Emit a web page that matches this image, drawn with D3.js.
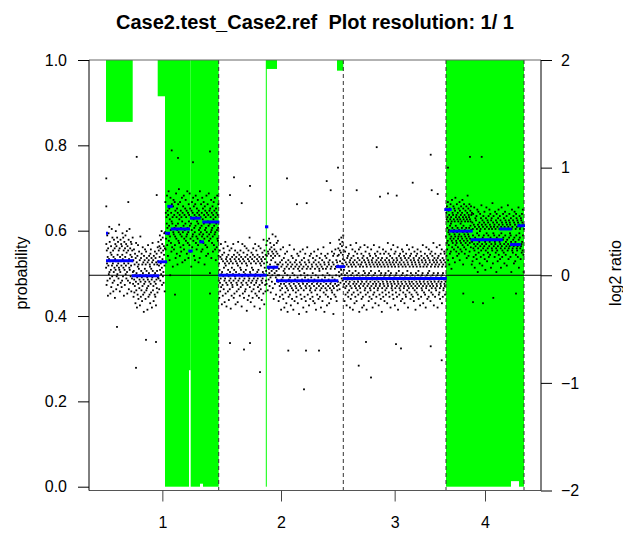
<!DOCTYPE html>
<html>
<head>
<meta charset="utf-8">
<script src="https://cdn.jsdelivr.net/npm/d3@7"></script>
<style>
  body { margin: 0; background: #fff; }
  text { font-family: "Liberation Sans", Arial, sans-serif; }
</style>
</head>
<body>
<div id="chart"></div>
<script>
// chromosome layout (Mb) and labels
var chromLengths = [112.7, 124.6, 102.7, 78];
var chromLabels = ["1", "2", "3", "4"];

// green probability bars: [start, end, bottom probability] (hang from 1.0)
var greenBars = [
  [0, 26.7, 0.855], [51.7, 59, 0.915], [59, 83, 0], [83, 84.7, 0.273],
  [84.7, 94, 0], [94, 97, 0.007], [97, 112.7, 0],
  [159.8, 160.8, 0], [160, 171, 0.979], [231, 237.3, 0.975],
  [340, 405, 0], [405, 413, 0.013], [413, 418, 0]
];

// blue segment means: [start, end, log2 ratio]
var segments = [
  [0, 2, 0.39], [0, 27.3, 0.135], [25.7, 53.3, -0.005], [51.5, 61, 0.125],
  [59, 64, 0.39], [61.3, 66.7, 0.64], [64.7, 84, 0.43], [84, 94.7, 0.53],
  [82.3, 86.7, 0.225], [93.3, 98, 0.31], [96.3, 113.3, 0.495],
  [112.3, 160.7, 0.0], [159, 162.3, 0.45], [160.7, 172.3, 0.074],
  [170, 232.3, -0.05], [230, 239, 0.08], [236.7, 340.7, -0.03],
  [338.3, 345.7, 0.61], [343.3, 366.7, 0.41], [364.7, 396.7, 0.33],
  [393.3, 405.7, 0.43], [404, 414.7, 0.285], [411.3, 419, 0.46]
];

// bulk probes: one character per probe = offset from the stretch level,
// in steps of 0.02 log2 ('U' = 0, 'V' = +1, 'T' = -1 ...)
var ptsA = "SdKaUhMXFbTiPWlQeNVGZRcJYkTOgLUaHXQfMSbEWdRjVIcOTgPYKeUNaSmRbHXQfLVdTJcMYiWOgSaFUeRKbXhPTdNZjQGcVMaUfIWSkRLbYOeTHdXNaVgQ";
var ptsB = "RcLXhTNaQfVIdSkOWbGUeMZjRKaYgPTcHVnSLdXOfUJaQiWMbTEeRNcYhSKaVgOXdPUFbTjQLcWeSMaZIfRhNYdTGbUkXOcQJeVaSMgWLdRHbTfPXaNiU";
var ptsC = "VeNaTIcXhRMbUfPZjSKdWgOaQLcYiTHb";
var ptsD = "ThLcQFaXkNVdIbSmPWeGZR9jUOcKYgMXaDfTiSLbVhNRdHWlQaJeUEcXgPTnOZbIhSMdVKaRjYFcTfNWkLQbUGeXiPaRdJSmVOcTHgYbNlWeKQaXDdUhMRcSjPZfIVbTGgWkOaRLeYcQiNXFdUbSHmVPaTgKWcRjLZeSOhXbQEfUdNaVIkTcMRgYJbWlPSdXAeQaTiHUcOVfRKbZhNWdSjLTaGeXcMUkQbPVgI";
var ptsE = "SaKXgRNdTjPVcHWeQLbUhOYfSIaTkMZcRGdVbQiNXeUJaSgOWcTFbRhLYdQPaVjSKeXMcUgTHbWdRNaQfIZkSOcVeTLbYgPXdRGaUjQMcSfWKbTiNVdOXaRhEZeQJcUgSLbTmPWdVIaRfNYcSKeXhOTbQGdUjMVaRgSLcWeTPbXiKNdQFaUhOZcSJbRfTWdMlVaHgYcQNeS";
var ptsF = "TfNaXhRKcVbPUiSMdWgQJaYeTOcRkLZbUGfVdSNaXjQIcTgPWbRh";
var ptsG = "UcLaXgSNdQjTHbVeROcWkMZfTIaYhPSdUKbRiXGcQeNVaTlOWdSJbUgRMcYfQHaTjXLdVbSPeRNcUhWKaQgTFbZdSiOXcRMeVaUjTIbQfYNdWhSLcRGaTkXObVeUJdSgQMaRhWPcTbNYfLUdSiVKaQeXHcRgTObUjWMdSaZfNQcTIhRbVeLXaSkPUdGcWgROaTfQJbYhNSdVcKXeRmTaMUbQiPWdSgFcRhOVaTjNbXeLSdQgU";
var ptsH = "VdMaShQKcXfNUbTiRPeWgOaYjLcT";
var ptsI = "SdKaWhQNcTjRIbXeUOfVMaSgPYcTHdRkLbWeQNaUiXGcSfOVbTJdRhMYaQlSKcWgPUeTNbXiRFdVaQjOSbUgLcTHeWMaRfYIdSkPXcQhNVbTGaUeRjOWdSKcXgMbQfTPaYiRLdVcUHeSNbWkQOaTgXJcRfSMdUbVhPaQeTIcYjNRbSgWLdXaUFeQOcTiMSbVgRKaWdPXhNUcQeTJbSlRaYgOdVMcWfTHbXiSQaRePNcUkLdTbVgSIaQhWOcXeRMdUjTGbSaYfNQcVgPReKbTdWiSLaXhOUcQfRJbVeTNaMgSdWkPYcRHbUeQiTOaSfVLdXgRNcTbWjMQaSeKdUhPVcRGbXfTOaQgSiNWdYLcReUbTIaVhSMfQdWPcXkRJaTeOUbSgNdVHcQjRaWfLTbXeSMiPYdUcRgKVaTOhQbSfWNdRlXIcUeTaMgQbVPdSjRcWHeXaTfNUbOkQLdSgRVcTiJaWeMXbPQdUhSgRNcTaV";
var ptsJ1 = "TeKbQhNXcRjIaVfPWdGUgLYbSiMZcTEaRkOXeQJdVhSbNWgUaHfTlPYcRMdQiVKbXeOSaTgLWcUjIfRbNZdQhTaMXeSkPVcGgYbRiOUdLWaTfQNcXhSJbVeRmPaUgKdTcXiMQbSfYaOhWdRGe";
var ptsJ2 = "UdLaXhRNcTkQIbWfSOeVgMaYjTGcRiPXbUdKZhSaNfQlVcTJeWbRgOXdSiMaUHcQfTkYbLVeRPdXgNaSjUcOhWbIeTfRaQmVKdYgSbXcNUiTaPeRGhWdQbLSfVjOcXaUgMTeRIbYkSdNQcVhWaPfTKbRiXeOUdSgJcVaQlTbMReWhSdYcNXfUGaTjQbRPeVgSKdWiTcLUaOhXfRbQeSNdTkVIcYgWaRbMfSeTPhUdQjXcOGa";

// [start, end, level, probes]
var pointGroups = [
  [0, 27, 0.11, ptsA], [27, 52, -0.02, ptsB], [52, 59, 0.11, ptsC],
  [59, 112.7, 0.42, ptsD], [112.7, 160, -0.01, ptsE], [160, 172, 0.06, ptsF],
  [172, 232, -0.06, ptsG], [232, 238, 0.07, ptsH], [238, 340, -0.04, ptsI],
  [340, 366, 0.38, ptsJ1], [366, 418, 0.31, ptsJ2]
];

// isolated probes far from the bulk: [Mb, log2 ratio]
var outliers = [
  [30.7, 1.10], [0.3, 0.90], [22.3, 0.68], [50.7, 0.745], [0.3, 0.64],
  [30, -0.86], [11, -0.48], [40, -0.60], [50, -0.62],
  [65.7, 1.16], [104, 1.15], [72, 1.09], [87, 1.05], [69, -0.18], [104, -0.17],
  [128, 0.91], [144, 0.83], [135.7, 0.67], [124, 0.745],
  [124, -0.63], [138, -0.69], [154, -0.90], [144, -0.63],
  [181, 0.90], [220.7, 0.875], [224.7, 0.79], [191, 0.66], [200.7, 0.67], [232, 1.0],
  [198, -1.06], [182.3, -0.70], [200, -0.70], [213, -0.70],
  [270.7, 1.19], [324.7, 1.12], [250.7, 0.79], [306.7, 0.86], [325.7, 0.79],
  [274, 0.73], [282, 0.76], [290.7, 0.74], [331.7, 0.755],
  [252.7, -0.84], [265, -0.95], [335.7, -0.79], [295, -0.68], [290, -0.64],
  [324.7, -0.66], [260, -0.62],
  [375.7, 1.10], [364, 1.10], [342, 1.0], [377, -0.26], [367, -0.25],
  [387.3, -0.21], [410, -0.17], [357.3, -0.17]
];

var probTicks = [0, 0.2, 0.4, 0.6, 0.8, 1.0];
var ratioTicks = [-2, -1, 0, 1, 2];

var ALPH = "0123456789ABCDEFGHIJKLMNOPQRSTUVWXYZabcdefghijklmnopqrstuvwxyz";
var STEP = 0.02;

var width = 623, height = 533;
var plotL = 89, plotR = 541, plotT = 60, plotB = 490.5;

var svg = d3.select("#chart").append("svg")
  .attr("width", width).attr("height", height);

var chromEnds = Array.from(d3.cumsum(chromLengths));
var chromMids = chromLengths.map((l, i) => chromEnds[i] - l / 2);
var total = chromEnds[chromEnds.length - 1];

var x = d3.scaleLinear().domain([0, total]).range([106, 524]);
var yP = d3.scaleLinear().domain([0, 1]).range([486.7, plotT]);
var yL = d3.scaleLinear().domain([-2, 2]).range([plotB, plotT]);

// green bars
svg.append("g").selectAll("rect")
  .data(greenBars)
  .enter().append("rect")
  .attr("x", d => x(d[0]))
  .attr("width", d => x(d[1]) - x(d[0]))
  .attr("y", yP(1))
  .attr("height", d => yP(d[2]) - yP(1))
  .attr("fill", "#00ff00");

// probe points
var points = outliers.slice();
pointGroups.forEach(function(g) {
  var n = g[3].length, w = (g[1] - g[0]) / n;
  for (var i = 0; i < n; i++) {
    points.push([g[0] + (i + 0.5) * w, g[2] + (ALPH.indexOf(g[3][i]) - 30) * STEP]);
  }
});

svg.append("g").selectAll("rect")
  .data(points)
  .enter().append("rect")
  .attr("x", d => x(d[0]) - 0.9)
  .attr("y", d => yL(d[1]) - 0.9)
  .attr("width", 1.8)
  .attr("height", 1.8)
  .attr("fill", "#000");

// zero line
svg.append("line")
  .attr("x1", plotL).attr("x2", plotR)
  .attr("y1", yL(0)).attr("y2", yL(0))
  .attr("stroke", "#000").attr("stroke-width", 1);

// chromosome boundaries
svg.append("g").selectAll("line")
  .data(chromEnds)
  .enter().append("line")
  .attr("x1", d => x(d)).attr("x2", d => x(d))
  .attr("y1", plotT).attr("y2", plotB)
  .attr("stroke", "#333")
  .attr("stroke-dasharray", "4,3");

// segment means
svg.append("g").selectAll("line")
  .data(segments)
  .enter().append("line")
  .attr("x1", d => x(d[0])).attr("x2", d => x(d[1]))
  .attr("y1", d => yL(d[2])).attr("y2", d => yL(d[2]))
  .attr("stroke", "#0000ff")
  .attr("stroke-width", 3);

// frame
svg.append("line").attr("x1", plotL).attr("x2", plotR).attr("y1", plotT).attr("y2", plotT)
  .attr("stroke", "#666");
svg.append("line").attr("x1", plotL).attr("x2", plotR).attr("y1", plotB).attr("y2", plotB)
  .attr("stroke", "#555");

// axes
var leftAxis = svg.append("g")
  .attr("transform", "translate(" + plotL + ",0)")
  .call(d3.axisLeft(yP).tickValues(probTicks).tickFormat(d3.format(".1f"))
    .tickSize(11).tickPadding(11));
var rightAxis = svg.append("g")
  .attr("transform", "translate(" + plotR + ",0)")
  .call(d3.axisRight(yL).tickValues(ratioTicks).tickFormat(d3.format("d"))
    .tickSize(11).tickPadding(9));
var bottomAxis = svg.append("g")
  .attr("transform", "translate(0," + plotB + ")")
  .call(d3.axisBottom(x).tickValues(chromMids).tickFormat((d, i) => chromLabels[i])
    .tickSize(11).tickPadding(15));

[leftAxis, rightAxis, bottomAxis].forEach(function(a) {
  a.select(".domain").remove();
  a.selectAll("text").style("font-size", "16px").attr("fill", "#000");
});
bottomAxis.selectAll("line").attr("stroke", "#444");

svg.append("line").attr("x1", plotL).attr("x2", plotL).attr("y1", plotT).attr("y2", plotB)
  .attr("stroke", "#000");
svg.append("line").attr("x1", plotR).attr("x2", plotR).attr("y1", plotT).attr("y2", plotB)
  .attr("stroke", "#000");

// titles
svg.append("text")
  .attr("x", (plotL + plotR) / 2).attr("y", 29)
  .attr("text-anchor", "middle")
  .style("font-size", "20px").style("font-weight", "bold")
  .style("white-space", "pre")
  .text("Case2.test_Case2.ref  Plot resolution: 1/ 1");

svg.append("text")
  .attr("transform", "translate(27,273) rotate(-90)")
  .attr("text-anchor", "middle")
  .style("font-size", "16px")
  .text("probability");

svg.append("text")
  .attr("transform", "translate(621,273) rotate(-90)")
  .attr("text-anchor", "middle")
  .style("font-size", "16px")
  .text("log2 ratio");
</script>
</body>
</html>
